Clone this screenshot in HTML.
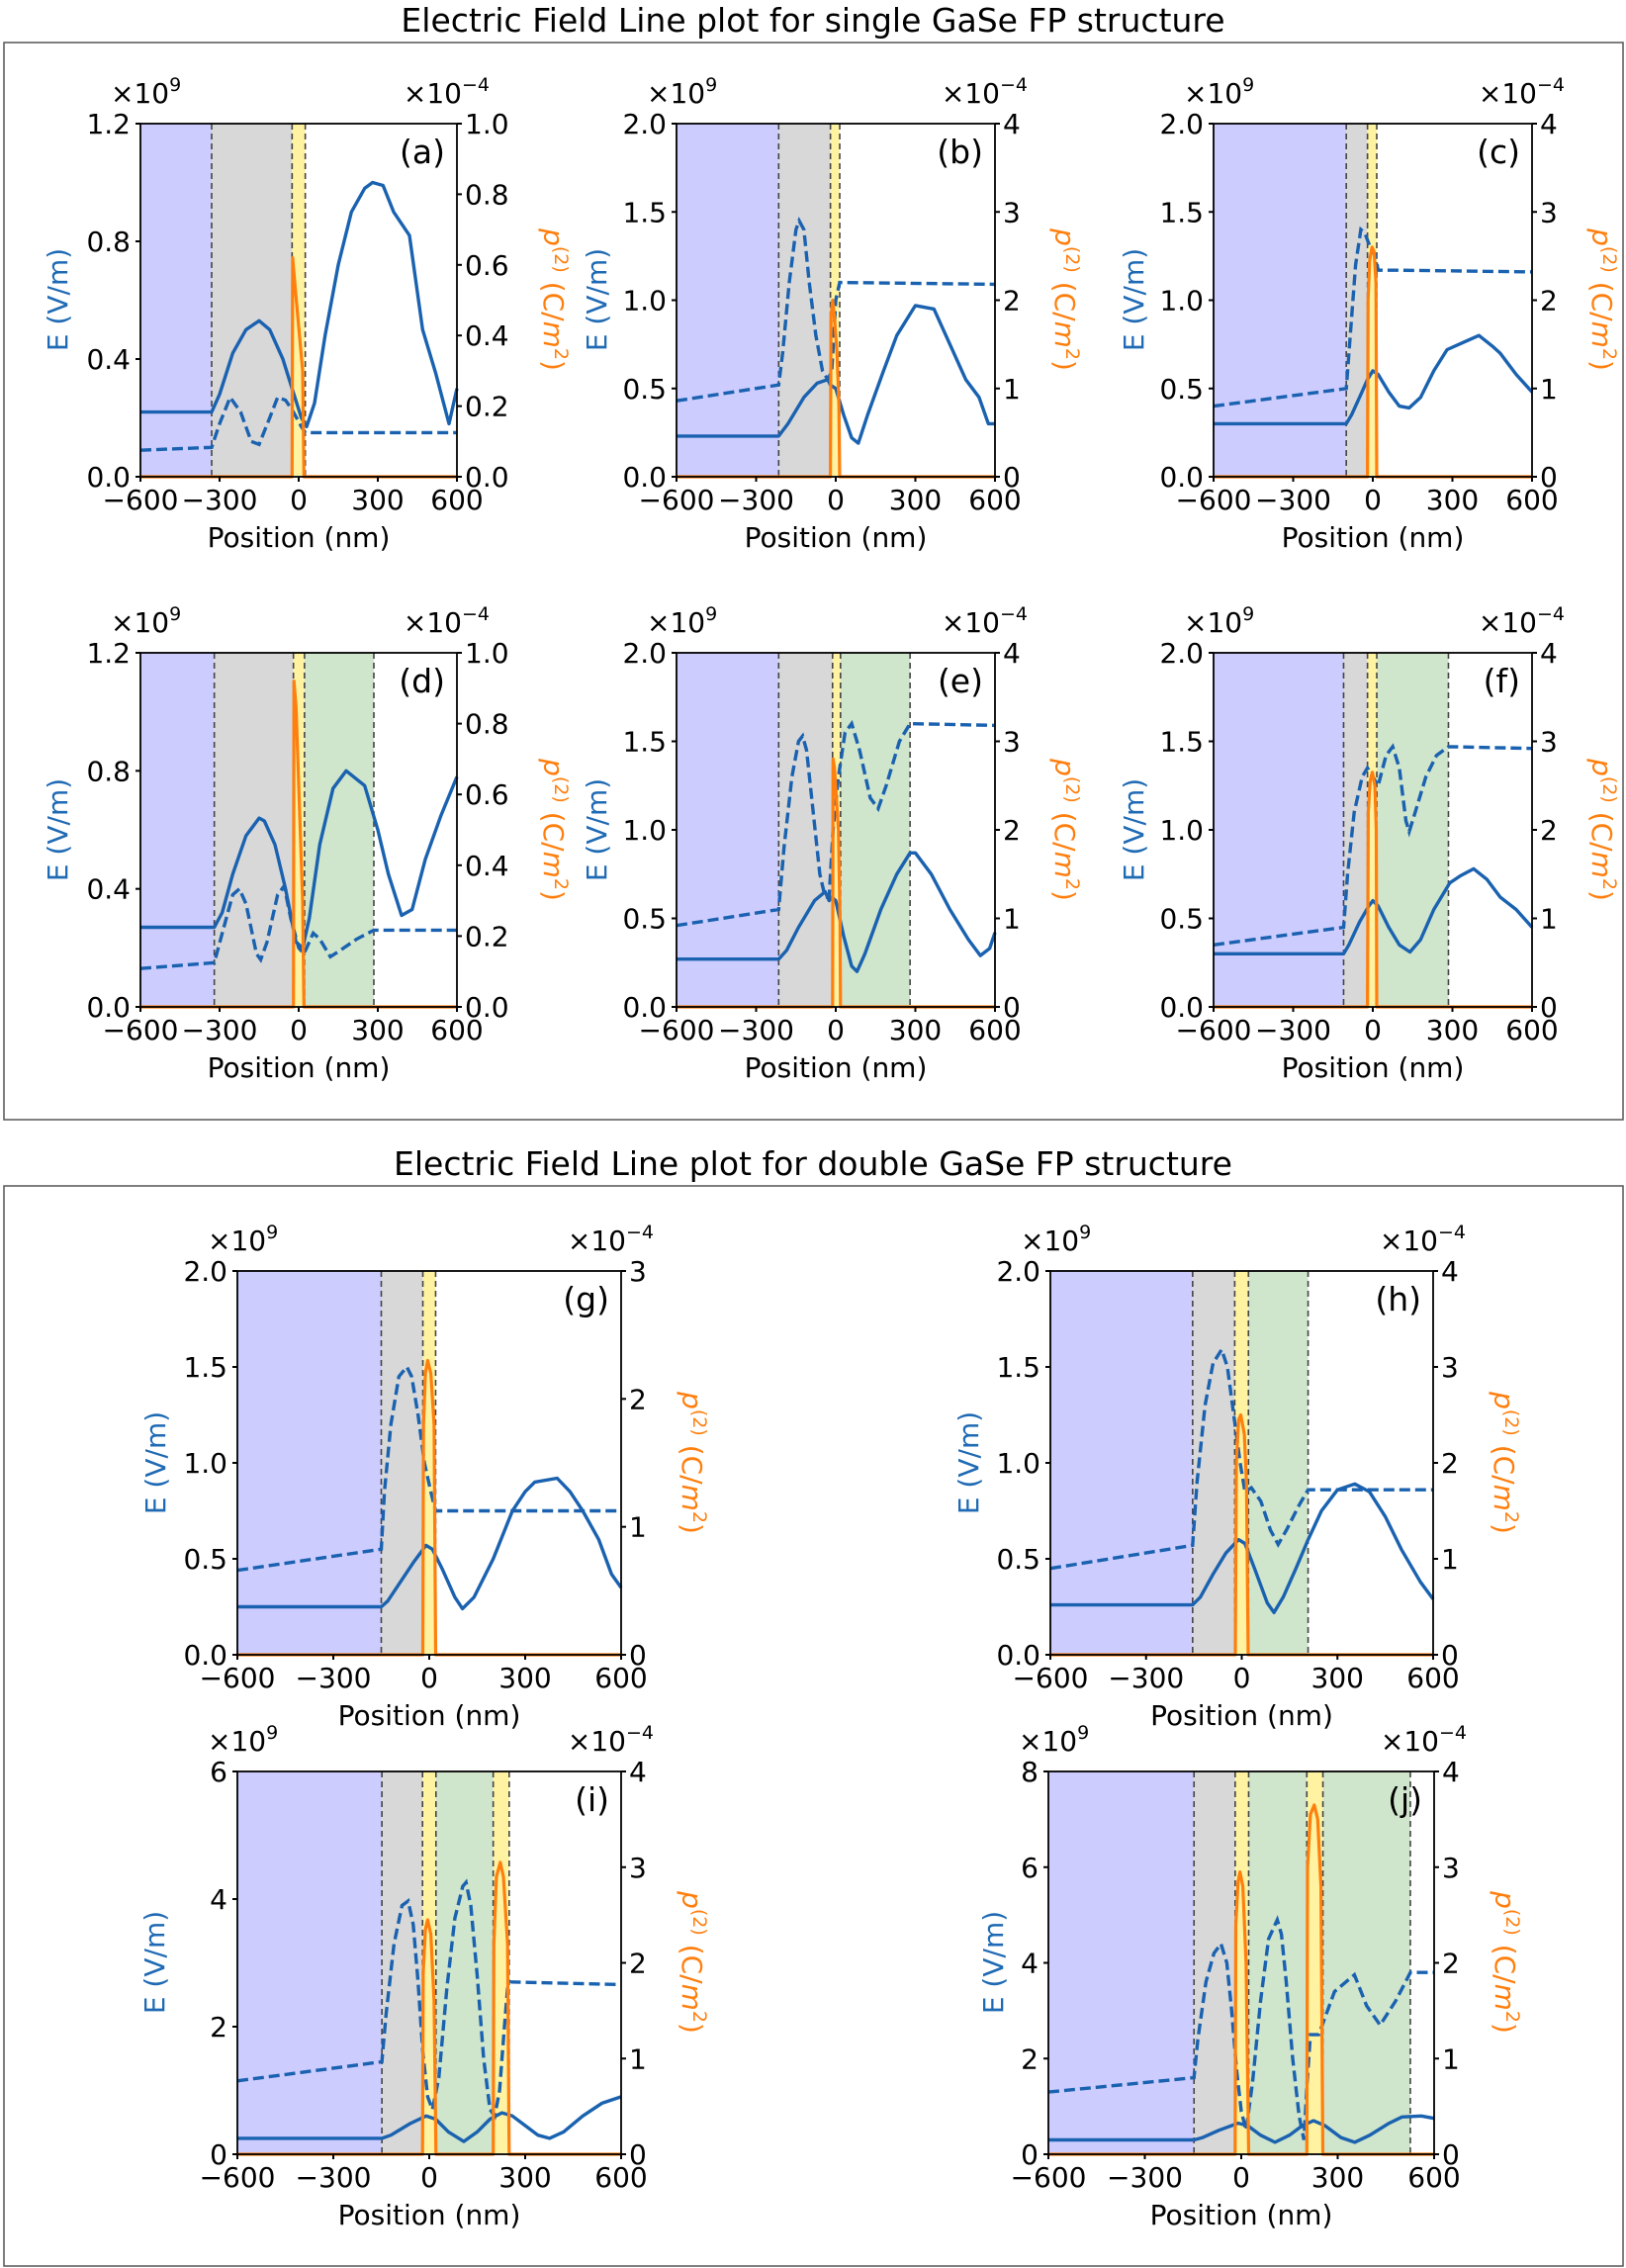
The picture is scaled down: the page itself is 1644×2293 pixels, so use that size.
<!DOCTYPE html>
<html><head><meta charset="utf-8">
<style>
html,body{margin:0;padding:0;background:#fff}
svg{display:block}
text{font-family:"DejaVu Sans","Liberation Sans",sans-serif;font-size:28px;fill:#000}
.ttl{font-size:33px}
.lt{font-size:33px}
.e{fill:#1f6ab4}
.p{fill:#ff7f0e}
.sup{font-size:19px}
</style></head>
<body>
<svg id="s" width="1644" height="2293" viewBox="0 0 1644 2293" xmlns="http://www.w3.org/2000/svg">
<rect x="0" y="0" width="1644" height="2293" fill="#fff"/>
<rect x="4" y="43" width="1637" height="1089" fill="none" stroke="#555" stroke-width="1.5"/>
<rect x="4" y="1199" width="1637" height="1092" fill="none" stroke="#555" stroke-width="1.5"/>
<text class="ttl" x="822" y="32" text-anchor="middle">Electric Field Line plot for single GaSe FP structure</text>
<text class="ttl" x="822" y="1188" text-anchor="middle">Electric Field Line plot for double GaSe FP structure</text>
<g id="plots"></g>

<!-- (a) -->
<g transform="translate(142,125)">
<text x="-30" y="-21">×10<tspan class="sup" dy="-12">9</tspan></text>
<text x="353" y="-21" text-anchor="end">×10<tspan class="sup" dy="-12">−4</tspan></text>
<text class="lt" x="308" y="40" text-anchor="end">(a)</text>
<g text-anchor="end"><text x="-10" y="367">0.0</text><text x="-10" y="248">0.4</text><text x="-10" y="129">0.8</text><text x="-10" y="10">1.2</text></g>
<g><text x="328" y="367">0.0</text><text x="328" y="295.6">0.2</text><text x="328" y="224.2">0.4</text><text x="328" y="152.8">0.6</text><text x="328" y="81.4">0.8</text><text x="328" y="10">1.0</text></g>
<g text-anchor="middle"><text x="0" y="390">−600</text><text x="80" y="390">−300</text><text x="160" y="390">0</text><text x="240" y="390">300</text><text x="320" y="390">600</text>
<text x="160" y="428">Position (nm)</text>
<text class="e" transform="translate(-74,178) rotate(-90)">E (V/m)</text>
<text class="p" transform="translate(408,178) rotate(90)"><tspan font-style="italic">p</tspan><tspan class="sup" dy="-11">(2)</tspan><tspan dy="11"> (C/</tspan><tspan font-style="italic">m</tspan><tspan class="sup" dy="-11">2</tspan><tspan dy="11">)</tspan></text></g>
</g>

<!-- (b) -->
<g transform="translate(684,125)">
<text x="-30" y="-21">×10<tspan class="sup" dy="-12">9</tspan></text>
<text x="355" y="-21" text-anchor="end">×10<tspan class="sup" dy="-12">−4</tspan></text>
<text class="lt" x="310" y="40" text-anchor="end">(b)</text>
<g text-anchor="end"><text x="-10" y="367">0.0</text><text x="-10" y="277.75">0.5</text><text x="-10" y="188.5">1.0</text><text x="-10" y="99.25">1.5</text><text x="-10" y="10">2.0</text></g>
<g><text x="330" y="367">0</text><text x="330" y="277.75">1</text><text x="330" y="188.5">2</text><text x="330" y="99.25">3</text><text x="330" y="10">4</text></g>
<g text-anchor="middle"><text x="0" y="390">−600</text><text x="80.5" y="390">−300</text><text x="161" y="390">0</text><text x="241.5" y="390">300</text><text x="322" y="390">600</text>
<text x="161" y="428">Position (nm)</text>
<text class="e" transform="translate(-71,178) rotate(-90)">E (V/m)</text>
<text class="p" transform="translate(383,178) rotate(90)"><tspan font-style="italic">p</tspan><tspan class="sup" dy="-11">(2)</tspan><tspan dy="11"> (C/</tspan><tspan font-style="italic">m</tspan><tspan class="sup" dy="-11">2</tspan><tspan dy="11">)</tspan></text></g>
</g>

<!-- (c) -->
<g transform="translate(1227,125)">
<text x="-30" y="-21">×10<tspan class="sup" dy="-12">9</tspan></text>
<text x="355" y="-21" text-anchor="end">×10<tspan class="sup" dy="-12">−4</tspan></text>
<text class="lt" x="310" y="40" text-anchor="end">(c)</text>
<g text-anchor="end"><text x="-10" y="367">0.0</text><text x="-10" y="277.75">0.5</text><text x="-10" y="188.5">1.0</text><text x="-10" y="99.25">1.5</text><text x="-10" y="10">2.0</text></g>
<g><text x="330" y="367">0</text><text x="330" y="277.75">1</text><text x="330" y="188.5">2</text><text x="330" y="99.25">3</text><text x="330" y="10">4</text></g>
<g text-anchor="middle"><text x="0" y="390">−600</text><text x="80.5" y="390">−300</text><text x="161" y="390">0</text><text x="241.5" y="390">300</text><text x="322" y="390">600</text>
<text x="161" y="428">Position (nm)</text>
<text class="e" transform="translate(-71,178) rotate(-90)">E (V/m)</text>
<text class="p" transform="translate(383,178) rotate(90)"><tspan font-style="italic">p</tspan><tspan class="sup" dy="-11">(2)</tspan><tspan dy="11"> (C/</tspan><tspan font-style="italic">m</tspan><tspan class="sup" dy="-11">2</tspan><tspan dy="11">)</tspan></text></g>
</g>

<!-- (d) -->
<g transform="translate(142,660)">
<text x="-30" y="-21">×10<tspan class="sup" dy="-12">9</tspan></text>
<text x="353" y="-21" text-anchor="end">×10<tspan class="sup" dy="-12">−4</tspan></text>
<text class="lt" x="308" y="40" text-anchor="end">(d)</text>
<g text-anchor="end"><text x="-10" y="368">0.0</text><text x="-10" y="248.7">0.4</text><text x="-10" y="129.3">0.8</text><text x="-10" y="10">1.2</text></g>
<g><text x="328" y="368">0.0</text><text x="328" y="296.4">0.2</text><text x="328" y="224.8">0.4</text><text x="328" y="153.2">0.6</text><text x="328" y="81.6">0.8</text><text x="328" y="10">1.0</text></g>
<g text-anchor="middle"><text x="0" y="391">−600</text><text x="80" y="391">−300</text><text x="160" y="391">0</text><text x="240" y="391">300</text><text x="320" y="391">600</text>
<text x="160" y="429">Position (nm)</text>
<text class="e" transform="translate(-74,179) rotate(-90)">E (V/m)</text>
<text class="p" transform="translate(408,179) rotate(90)"><tspan font-style="italic">p</tspan><tspan class="sup" dy="-11">(2)</tspan><tspan dy="11"> (C/</tspan><tspan font-style="italic">m</tspan><tspan class="sup" dy="-11">2</tspan><tspan dy="11">)</tspan></text></g>
</g>

<!-- (e) -->
<g transform="translate(684,660)">
<text x="-30" y="-21">×10<tspan class="sup" dy="-12">9</tspan></text>
<text x="355" y="-21" text-anchor="end">×10<tspan class="sup" dy="-12">−4</tspan></text>
<text class="lt" x="310" y="40" text-anchor="end">(e)</text>
<g text-anchor="end"><text x="-10" y="368">0.0</text><text x="-10" y="278.5">0.5</text><text x="-10" y="189">1.0</text><text x="-10" y="99.5">1.5</text><text x="-10" y="10">2.0</text></g>
<g><text x="330" y="368">0</text><text x="330" y="278.5">1</text><text x="330" y="189">2</text><text x="330" y="99.5">3</text><text x="330" y="10">4</text></g>
<g text-anchor="middle"><text x="0" y="391">−600</text><text x="80.5" y="391">−300</text><text x="161" y="391">0</text><text x="241.5" y="391">300</text><text x="322" y="391">600</text>
<text x="161" y="429">Position (nm)</text>
<text class="e" transform="translate(-71,179) rotate(-90)">E (V/m)</text>
<text class="p" transform="translate(383,179) rotate(90)"><tspan font-style="italic">p</tspan><tspan class="sup" dy="-11">(2)</tspan><tspan dy="11"> (C/</tspan><tspan font-style="italic">m</tspan><tspan class="sup" dy="-11">2</tspan><tspan dy="11">)</tspan></text></g>
</g>

<!-- (f) -->
<g transform="translate(1227,660)">
<text x="-30" y="-21">×10<tspan class="sup" dy="-12">9</tspan></text>
<text x="355" y="-21" text-anchor="end">×10<tspan class="sup" dy="-12">−4</tspan></text>
<text class="lt" x="310" y="40" text-anchor="end">(f)</text>
<g text-anchor="end"><text x="-10" y="368">0.0</text><text x="-10" y="278.5">0.5</text><text x="-10" y="189">1.0</text><text x="-10" y="99.5">1.5</text><text x="-10" y="10">2.0</text></g>
<g><text x="330" y="368">0</text><text x="330" y="278.5">1</text><text x="330" y="189">2</text><text x="330" y="99.5">3</text><text x="330" y="10">4</text></g>
<g text-anchor="middle"><text x="0" y="391">−600</text><text x="80.5" y="391">−300</text><text x="161" y="391">0</text><text x="241.5" y="391">300</text><text x="322" y="391">600</text>
<text x="161" y="429">Position (nm)</text>
<text class="e" transform="translate(-71,179) rotate(-90)">E (V/m)</text>
<text class="p" transform="translate(383,179) rotate(90)"><tspan font-style="italic">p</tspan><tspan class="sup" dy="-11">(2)</tspan><tspan dy="11"> (C/</tspan><tspan font-style="italic">m</tspan><tspan class="sup" dy="-11">2</tspan><tspan dy="11">)</tspan></text></g>
</g>

<!-- (g) -->
<g transform="translate(240,1285)">
<text x="-30" y="-21">×10<tspan class="sup" dy="-12">9</tspan></text>
<text x="421" y="-21" text-anchor="end">×10<tspan class="sup" dy="-12">−4</tspan></text>
<text class="lt" x="376" y="40" text-anchor="end">(g)</text>
<g text-anchor="end"><text x="-10" y="398">0.0</text><text x="-10" y="301">0.5</text><text x="-10" y="204">1.0</text><text x="-10" y="107">1.5</text><text x="-10" y="10">2.0</text></g>
<g><text x="396" y="398">0</text><text x="396" y="268.7">1</text><text x="396" y="139.3">2</text><text x="396" y="10">3</text></g>
<g text-anchor="middle"><text x="0" y="421">−600</text><text x="97" y="421">−300</text><text x="194" y="421">0</text><text x="291" y="421">300</text><text x="388" y="421">600</text>
<text x="194" y="459">Position (nm)</text>
<text class="e" transform="translate(-73,194) rotate(-90)">E (V/m)</text>
<text class="p" transform="translate(450,194) rotate(90)"><tspan font-style="italic">p</tspan><tspan class="sup" dy="-11">(2)</tspan><tspan dy="11"> (C/</tspan><tspan font-style="italic">m</tspan><tspan class="sup" dy="-11">2</tspan><tspan dy="11">)</tspan></text></g>
</g>

<!-- (h) -->
<g transform="translate(1062,1285)">
<text x="-30" y="-21">×10<tspan class="sup" dy="-12">9</tspan></text>
<text x="420" y="-21" text-anchor="end">×10<tspan class="sup" dy="-12">−4</tspan></text>
<text class="lt" x="375" y="40" text-anchor="end">(h)</text>
<g text-anchor="end"><text x="-10" y="398">0.0</text><text x="-10" y="301">0.5</text><text x="-10" y="204">1.0</text><text x="-10" y="107">1.5</text><text x="-10" y="10">2.0</text></g>
<g><text x="395" y="398">0</text><text x="395" y="301">1</text><text x="395" y="204">2</text><text x="395" y="107">3</text><text x="395" y="10">4</text></g>
<g text-anchor="middle"><text x="0" y="421">−600</text><text x="96.75" y="421">−300</text><text x="193.5" y="421">0</text><text x="290.25" y="421">300</text><text x="387" y="421">600</text>
<text x="193.5" y="459">Position (nm)</text>
<text class="e" transform="translate(-73,194) rotate(-90)">E (V/m)</text>
<text class="p" transform="translate(449,194) rotate(90)"><tspan font-style="italic">p</tspan><tspan class="sup" dy="-11">(2)</tspan><tspan dy="11"> (C/</tspan><tspan font-style="italic">m</tspan><tspan class="sup" dy="-11">2</tspan><tspan dy="11">)</tspan></text></g>
</g>

<!-- (i) -->
<g transform="translate(240,1791)">
<text x="-30" y="-21">×10<tspan class="sup" dy="-12">9</tspan></text>
<text x="421" y="-21" text-anchor="end">×10<tspan class="sup" dy="-12">−4</tspan></text>
<text class="lt" x="376" y="40" text-anchor="end">(i)</text>
<g text-anchor="end"><text x="-10" y="397">0</text><text x="-10" y="268">2</text><text x="-10" y="139">4</text><text x="-10" y="10">6</text></g>
<g><text x="396" y="397">0</text><text x="396" y="300.25">1</text><text x="396" y="203.5">2</text><text x="396" y="106.75">3</text><text x="396" y="10">4</text></g>
<g text-anchor="middle"><text x="0" y="420">−600</text><text x="97" y="420">−300</text><text x="194" y="420">0</text><text x="291" y="420">300</text><text x="388" y="420">600</text>
<text x="194" y="458">Position (nm)</text>
<text class="e" transform="translate(-74,193) rotate(-90)">E (V/m)</text>
<text class="p" transform="translate(450,193) rotate(90)"><tspan font-style="italic">p</tspan><tspan class="sup" dy="-11">(2)</tspan><tspan dy="11"> (C/</tspan><tspan font-style="italic">m</tspan><tspan class="sup" dy="-11">2</tspan><tspan dy="11">)</tspan></text></g>
</g>

<!-- (j) -->
<g transform="translate(1060,1791)">
<text x="-30" y="-21">×10<tspan class="sup" dy="-12">9</tspan></text>
<text x="423" y="-21" text-anchor="end">×10<tspan class="sup" dy="-12">−4</tspan></text>
<text class="lt" x="378" y="40" text-anchor="end">(j)</text>
<g text-anchor="end"><text x="-10" y="397">0</text><text x="-10" y="300.25">2</text><text x="-10" y="203.5">4</text><text x="-10" y="106.75">6</text><text x="-10" y="10">8</text></g>
<g><text x="398" y="397">0</text><text x="398" y="300.25">1</text><text x="398" y="203.5">2</text><text x="398" y="106.75">3</text><text x="398" y="10">4</text></g>
<g text-anchor="middle"><text x="0" y="420">−600</text><text x="97.5" y="420">−300</text><text x="195" y="420">0</text><text x="292.5" y="420">300</text><text x="390" y="420">600</text>
<text x="195" y="458">Position (nm)</text>
<text class="e" transform="translate(-46,193) rotate(-90)">E (V/m)</text>
<text class="p" transform="translate(452,193) rotate(90)"><tspan font-style="italic">p</tspan><tspan class="sup" dy="-11">(2)</tspan><tspan dy="11"> (C/</tspan><tspan font-style="italic">m</tspan><tspan class="sup" dy="-11">2</tspan><tspan dy="11">)</tspan></text></g>
</g>
</svg>
<script>
(function(){
var NS="http://www.w3.org/2000/svg";
var root=document.getElementById("plots");
function el(n,a){var e=document.createElementNS(NS,n);for(var k in a)e.setAttribute(k,a[k]);root.appendChild(e);return e;}
var BL="#ccccff",GR="#d8d8d8",YE="#fff2a0",GN="#cfe5cc";
var P=[
{L:142,T:125,W:320,H:357,ym:1.2,pm:1,lt:[0,.4,.8,1.2],rt:[0,.2,.4,.6,.8,1],
 reg:[[-600,-330,BL],[-330,-25,GR],[-25,25,YE]],vl:[-330,-25,25],
 s:[[-600,.22],[-330,.22],[-300,.28],[-250,.42],[-200,.5],[-150,.53],[-110,.5],[-60,.4],[-25,.3],[10,.2],[30,.17],[60,.25],[100,.48],[150,.72],[200,.9],[250,.98],[280,1.0],[320,.99],[360,.9],[420,.82],[470,.5],[520,.35],[570,.18],[600,.3]],
 d:[[-600,.09],[-330,.1],[-300,.18],[-260,.27],[-220,.22],[-180,.12],[-150,.11],[-110,.2],[-80,.27],[-50,.26],[-20,.22],[10,.17],[25,.15],[600,.15]],
 o:[[-600,0],[-25,0],[-23,.62],[-15,.55],[15,.3],[20,0],[600,0]]},
{L:684,T:125,W:322,H:357,ym:2,pm:4,lt:[0,.5,1,1.5,2],rt:[0,1,2,3,4],
 reg:[[-600,-215,BL],[-215,-20,GR],[-20,15,YE]],vl:[-215,-20,15],
 s:[[-600,.23],[-215,.23],[-180,.3],[-120,.45],[-70,.53],[-30,.55],[-20,.52],[0,.5],[30,.35],[60,.22],[85,.19],[120,.35],[180,.6],[230,.8],[300,.97],[370,.95],[430,.75],[490,.55],[540,.45],[575,.3],[600,.3]],
 d:[[-600,.43],[-215,.52],[-200,.7],[-175,1.1],[-150,1.4],[-138,1.45],[-120,1.4],[-100,1.1],[-75,.8],[-50,.6],[-30,.55],[-15,.6],[0,1.0],[15,1.1],[30,1.1],[600,1.09]],
 o:[[-600,0],[-20,0],[-18,1.8],[-12,2.0],[-5,1.8],[5,1.4],[12,.8],[15,0],[600,0]]},
{L:1227,T:125,W:322,H:357,ym:2,pm:4,lt:[0,.5,1,1.5,2],rt:[0,1,2,3,4],
 reg:[[-600,-100,BL],[-100,-20,GR],[-20,15,YE]],vl:[-100,-20,15],
 s:[[-600,.3],[-100,.3],[-80,.35],[-50,.45],[-20,.55],[0,.6],[20,.58],[60,.48],[100,.4],[137,.39],[180,.45],[230,.6],[280,.72],[340,.76],[400,.8],[450,.74],[480,.7],[540,.58],[600,.48]],
 d:[[-600,.4],[-100,.5],[-85,.8],[-65,1.2],[-45,1.4],[-30,1.38],[-10,1.3],[10,1.25],[20,1.17],[100,1.17],[600,1.16]],
 o:[[-600,0],[-20,0],[-18,2.0],[-12,2.45],[-3,2.6],[5,2.55],[12,2.2],[15,0],[600,0]]},
{L:142,T:660,W:320,H:358,ym:1.2,pm:1,lt:[0,.4,.8,1.2],rt:[0,.2,.4,.6,.8,1],
 reg:[[-600,-320,BL],[-320,-20,GR],[-20,22,YE],[22,285,GN]],vl:[-320,-20,22,285],
 s:[[-600,.27],[-320,.27],[-290,.32],[-250,.45],[-200,.58],[-150,.64],[-130,.63],[-90,.55],[-50,.4],[-10,.22],[15,.2],[40,.3],[80,.55],[130,.74],[180,.8],[250,.75],[300,.6],[340,.45],[390,.31],[430,.33],[480,.5],[540,.65],[600,.78]],
 d:[[-600,.13],[-320,.15],[-290,.25],[-250,.38],[-225,.4],[-200,.35],[-160,.18],[-144,.16],[-120,.22],[-80,.38],[-55,.41],[-30,.3],[0,.2],[20,.18],[55,.25],[80,.23],[120,.17],[155,.19],[220,.23],[285,.26],[600,.26]],
 o:[[-600,0],[-20,0],[-18,.92],[-10,.85],[15,.3],[20,0],[600,0]]},
{L:684,T:660,W:322,H:358,ym:2,pm:4,lt:[0,.5,1,1.5,2],rt:[0,1,2,3,4],
 reg:[[-600,-215,BL],[-215,-12,GR],[-12,18,YE],[18,280,GN]],vl:[-215,-12,18,280],
 s:[[-600,.27],[-215,.27],[-185,.32],[-140,.45],[-80,.6],[-40,.65],[-25,.6],[-15,.62],[0,.6],[30,.4],[60,.23],[80,.2],[110,.3],[170,.55],[230,.75],[280,.87],[300,.87],[360,.75],[430,.55],[500,.38],[545,.29],[580,.33],[600,.42]],
 d:[[-600,.46],[-215,.55],[-195,.9],[-165,1.3],[-140,1.5],[-125,1.53],[-110,1.45],[-85,1.1],[-60,.75],[-40,.62],[-25,.62],[-10,1.0],[10,1.3],[35,1.55],[60,1.6],[90,1.45],[130,1.18],[160,1.12],[190,1.25],[240,1.5],[280,1.6],[600,1.59]],
 o:[[-600,0],[-12,0],[-10,2.8],[-5,2.7],[10,2.0],[16,1.0],[18,0],[600,0]]},
{L:1227,T:660,W:322,H:358,ym:2,pm:4,lt:[0,.5,1,1.5,2],rt:[0,1,2,3,4],
 reg:[[-600,-110,BL],[-110,-20,GR],[-20,15,YE],[15,285,GN]],vl:[-110,-20,15,285],
 s:[[-600,.3],[-110,.3],[-90,.35],[-50,.48],[-15,.57],[0,.6],[20,.57],[60,.45],[100,.35],[140,.31],[180,.38],[230,.55],[290,.7],[330,.74],[380,.78],[430,.72],[480,.62],[540,.55],[600,.45]],
 d:[[-600,.35],[-110,.45],[-95,.75],[-70,1.1],[-40,1.3],[-20,1.35],[0,1.3],[20,1.25],[50,1.42],[75,1.47],[100,1.35],[125,1.05],[137,.99],[160,1.1],[200,1.3],[240,1.42],[285,1.47],[600,1.46]],
 o:[[-600,0],[-20,0],[-17,2.2],[-10,2.55],[-2,2.65],[8,2.5],[13,2.0],[15,0],[600,0]]},
{L:240,T:1285,W:388,H:388,ym:2,pm:3,lt:[0,.5,1,1.5,2],rt:[0,1,2,3],
 reg:[[-600,-150,BL],[-150,-20,GR],[-20,20,YE]],vl:[-150,-20,20],
 s:[[-600,.25],[-150,.25],[-130,.28],[-90,.38],[-50,.48],[-10,.57],[10,.55],[40,.45],[80,.3],[104,.24],[140,.3],[200,.5],[260,.75],[300,.85],[330,.9],[400,.92],[440,.85],[480,.75],[530,.6],[570,.42],[600,.35]],
 d:[[-600,.44],[-150,.55],[-140,.85],[-120,1.2],[-95,1.45],[-70,1.5],[-55,1.45],[-35,1.25],[-15,1.0],[5,.85],[15,.78],[20,.75],[600,.75]],
 o:[[-600,0],[-20,0],[-18,1.8],[-12,2.2],[-5,2.3],[5,2.2],[15,1.8],[20,0],[600,0]]},
{L:1062,T:1285,W:387,H:388,ym:2,pm:4,lt:[0,.5,1,1.5,2],rt:[0,1,2,3,4],
 reg:[[-600,-154,BL],[-154,-22,GR],[-22,21,YE],[21,208,GN]],vl:[-154,-22,21,208],
 s:[[-600,.26],[-154,.26],[-130,.3],[-90,.42],[-50,.53],[-10,.6],[10,.58],[40,.45],[80,.27],[101,.22],[130,.3],[170,.45],[208,.6],[250,.75],[300,.86],[354,.89],[400,.85],[450,.72],[500,.55],[560,.38],[600,.29]],
 d:[[-600,.45],[-154,.57],[-140,.9],[-115,1.3],[-90,1.52],[-63,1.59],[-45,1.5],[-25,1.25],[-5,1.0],[10,.85],[30,.87],[60,.8],[90,.65],[114,.575],[140,.65],[180,.78],[208,.86],[600,.86]],
 o:[[-600,0],[-20,0],[-17,2.0],[-10,2.45],[-3,2.5],[8,2.3],[15,1.8],[20,0],[600,0]]},
{L:240,T:1791,W:388,H:387,ym:6,pm:4,lt:[0,2,4,6],rt:[0,1,2,3,4],
 reg:[[-600,-148,BL],[-148,-21,GR],[-21,21,YE],[21,200,GN],[200,250,YE]],vl:[-148,-21,21,200,250],
 s:[[-600,.25],[-148,.25],[-120,.3],[-60,.48],[-10,.6],[20,.55],[60,.35],[108,.2],[150,.35],[190,.55],[227,.65],[260,.6],[300,.45],[340,.3],[376,.25],[420,.35],[480,.6],[540,.8],[600,.9]],
 d:[[-600,1.15],[-148,1.45],[-135,2.2],[-110,3.3],[-85,3.9],[-66,3.97],[-50,3.6],[-35,2.7],[-20,1.6],[-5,.9],[10,.7],[30,1.2],[55,2.6],[80,3.7],[105,4.2],[115,4.26],[130,3.9],[150,2.8],[170,1.5],[190,.7],[205,.6],[220,1.0],[235,2.0],[245,2.6],[255,2.7],[600,2.66]],
 o:[[-600,0],[-21,0],[-19,1.9],[-12,2.35],[-5,2.45],[5,2.3],[15,1.6],[21,0],[200,0],[202,2.2],[210,2.9],[222,3.05],[232,2.9],[245,2.2],[250,0],[600,0]]},
{L:1060,T:1791,W:390,H:387,ym:8,pm:4,lt:[0,2,4,6,8],rt:[0,1,2,3,4],
 reg:[[-600,-147,BL],[-147,-19,GR],[-19,23,YE],[23,204,GN],[204,254,YE],[254,526,GN]],vl:[-147,-19,23,204,254,526],
 s:[[-600,.3],[-147,.3],[-120,.35],[-70,.5],[-10,.65],[20,.6],[60,.4],[105,.25],[150,.4],[190,.6],[225,.7],[260,.6],[310,.35],[353,.25],[400,.4],[460,.65],[500,.78],[560,.8],[600,.75]],
 d:[[-600,1.3],[-147,1.6],[-135,2.4],[-110,3.6],[-85,4.2],[-63,4.4],[-45,4.0],[-30,3.0],[-15,1.8],[0,.9],[15,.5],[35,1.5],[60,3.2],[85,4.5],[112,4.9],[125,4.6],[140,3.6],[160,2.0],[180,.8],[195,.3],[205,1.5],[215,2.5],[241,2.5],[290,3.4],[352,3.75],[390,3.1],[432,2.7],[480,3.2],[526,3.8],[600,3.8]],
 o:[[-600,0],[-19,0],[-17,2.4],[-10,2.85],[-4,2.95],[5,2.8],[15,2.0],[23,0],[204,0],[206,3.0],[215,3.55],[227,3.65],[238,3.5],[248,2.8],[254,0],[600,0]]}
];
P.forEach(function(p){
 function X(x){return p.L+p.W*(x+600)/1200;}
 function Y(v){return p.T+p.H*(1-v/p.ym);}
 function pts(a,sc){return a.map(function(q){return X(q[0]).toFixed(1)+","+Y(q[1]*sc).toFixed(1);}).join(" ");}
 p.reg.forEach(function(r){el("rect",{x:X(r[0]),y:p.T,width:X(r[1])-X(r[0]),height:p.H,fill:r[2]});});
 p.vl.forEach(function(v){el("line",{x1:X(v),y1:p.T,x2:X(v),y2:p.T+p.H,stroke:"#444","stroke-width":1.6,"stroke-dasharray":"6,4"});});
 el("polyline",{points:pts(p.s,1),fill:"none",stroke:"#1a62b0","stroke-width":3.4,"stroke-linejoin":"round"});
 el("polyline",{points:pts(p.d,1),fill:"none",stroke:"#1a62b0","stroke-width":3.4,"stroke-dasharray":"11,5"});
 el("polyline",{points:pts(p.o,p.ym/p.pm),fill:"none",stroke:"#ff7f0e","stroke-width":3.2,"stroke-linejoin":"round"});
 el("rect",{x:p.L,y:p.T,width:p.W,height:p.H,fill:"none",stroke:"#000","stroke-width":1.8});
 p.lt.forEach(function(v){var y=Y(v);el("line",{x1:p.L-5,y1:y,x2:p.L,y2:y,stroke:"#000","stroke-width":2});});
 p.rt.forEach(function(v){var y=Y(v*p.ym/p.pm);el("line",{x1:p.L+p.W,y1:y,x2:p.L+p.W+5,y2:y,stroke:"#000","stroke-width":2});});
 [-600,-300,0,300,600].forEach(function(v){var x=X(v);el("line",{x1:x,y1:p.T+p.H,x2:x,y2:p.T+p.H+5,stroke:"#000","stroke-width":2});});
});
})();
</script>
</body></html>
